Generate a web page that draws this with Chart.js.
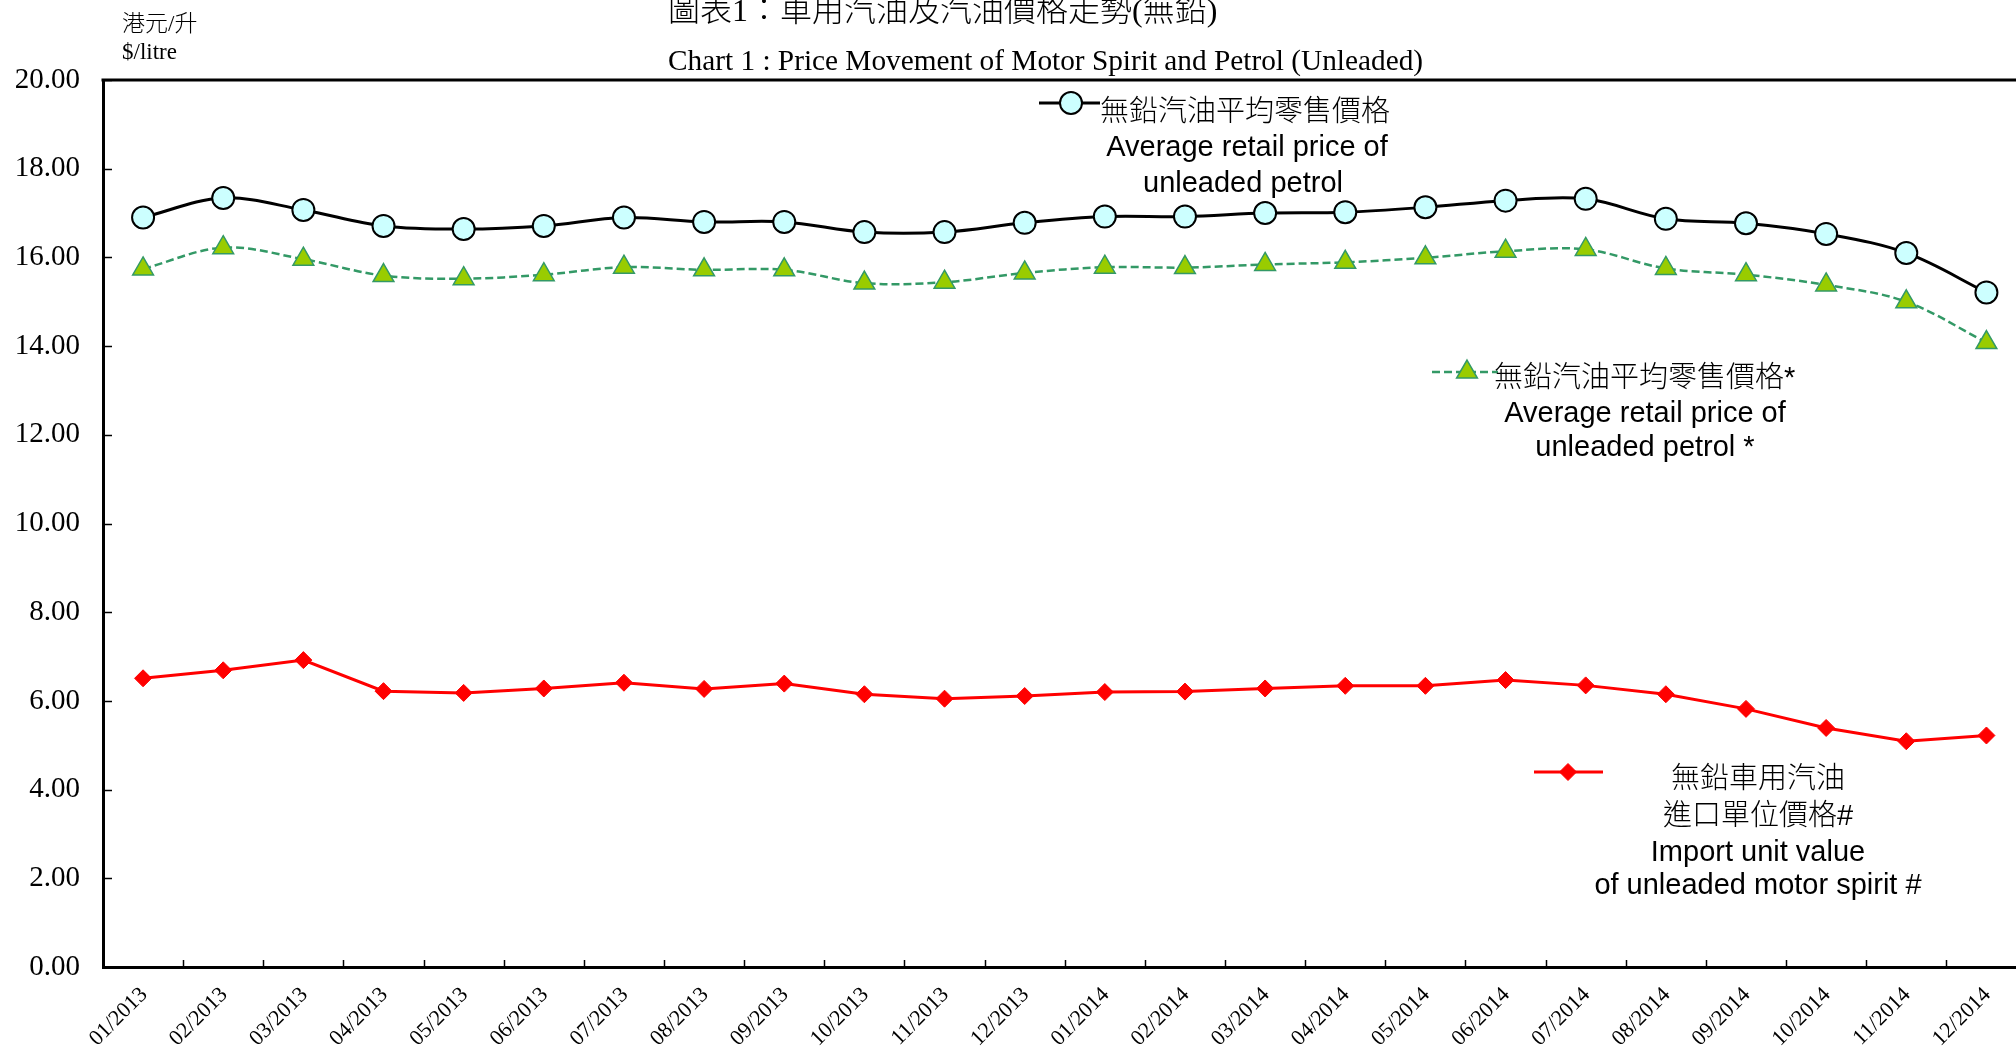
<!DOCTYPE html>
<html lang="zh-Hant">
<head>
  <meta charset="UTF-8">
  <title>Chart 1 : Price Movement of Motor Spirit and Petrol (Unleaded)</title>
  <script src="https://cdn.jsdelivr.net/npm/chart.js"></script>
  <style>
    html, body { margin: 0; padding: 0; background: #fff; overflow: hidden; }
    #wrap { position: relative; width: 2016px; height: 1048px; overflow: hidden; }
    #chart { position: absolute; left: 0; top: 0; }
    .t { position: absolute; white-space: nowrap; color: #000; line-height: 1; font-weight: 300; }
    .serif { font-family: "Liberation Serif", "Noto Sans CJK TC", serif; }
    .sans { font-family: "Liberation Sans", "Noto Sans CJK TC", sans-serif; font-size: 29px; }
    .mid { transform: translate(-50%, -50%); }
    .lm { transform: translate(0, -50%); }
  </style>
</head>
<body>
  <div id="wrap">
    <canvas id="chart" width="2040" height="1048"></canvas>

    <!-- titles and unit -->
    <div class="t serif lm" style="left:668px; top:10px; font-size:32px;">圖表1：車用汽油及汽油價格走勢(無鉛)</div>
    <div class="t serif lm" style="left:668px; top:61px; font-size:29.3px;">Chart 1 : Price Movement of Motor Spirit and Petrol (Unleaded)</div>
    <div class="t serif lm" style="left:122px; top:23px; font-size:23px;">港元/升</div>
    <div class="t serif lm" style="left:122px; top:51px; font-size:23px;">$/litre</div>

    <!-- legend texts -->
    <div class="t sans lm" style="left:1100px; top:111px;">無鉛汽油平均零售價格</div>
    <div class="t sans mid" style="left:1247px; top:146px;">Average retail price of</div>
    <div class="t sans mid" style="left:1243px; top:182px;">unleaded petrol</div>

    <div class="t sans lm" style="left:1494px; top:377px;">無鉛汽油平均零售價格<b>*</b></div>
    <div class="t sans mid" style="left:1645px; top:412px;">Average retail price of</div>
    <div class="t sans mid" style="left:1645px; top:446px;">unleaded petrol *</div>

    <div class="t sans mid" style="left:1758px; top:778px;">無鉛車用汽油</div>
    <div class="t sans mid" style="left:1758px; top:815px;">進口單位價格#</div>
    <div class="t sans mid" style="left:1758px; top:851px;">Import unit value</div>
    <div class="t sans mid" style="left:1758px; top:884px;">of unleaded motor spirit #</div>
  </div>

  <script>
    // months on the x axis
    const months = [
      '01/2013', '02/2013', '03/2013', '04/2013', '05/2013', '06/2013',
      '07/2013', '08/2013', '09/2013', '10/2013', '11/2013', '12/2013',
      '01/2014', '02/2014', '03/2014', '04/2014', '05/2014', '06/2014',
      '07/2014', '08/2014', '09/2014', '10/2014', '11/2014', '12/2014'
    ];

    // average retail price of unleaded petrol ($/litre)
    const retailPrice = [
      16.90, 17.34, 17.07, 16.71, 16.64, 16.71, 16.90, 16.80, 16.80, 16.57, 16.57, 16.78,
      16.92, 16.92, 17.00, 17.02, 17.13, 17.28, 17.32, 16.87, 16.77, 16.53, 16.10, 15.21
    ];

    // average retail price of unleaded petrol * ($/litre)
    const retailPriceStar = [
      15.74, 16.22, 15.96, 15.59, 15.52, 15.61, 15.78, 15.72, 15.72, 15.42, 15.44, 15.65,
      15.78, 15.77, 15.84, 15.89, 15.99, 16.14, 16.18, 15.75, 15.61, 15.38, 15.00, 14.08
    ];

    // import unit value of unleaded motor spirit # ($/litre)
    const importValue = [
      6.51, 6.69, 6.92, 6.22, 6.18, 6.28, 6.41, 6.27, 6.39, 6.15, 6.05, 6.11,
      6.20, 6.21, 6.28, 6.34, 6.34, 6.47, 6.35, 6.15, 5.82, 5.39, 5.09, 5.22
    ];

    // y axis range
    const yMin = 0;
    const yMax = 20;
    const yStep = 2;

    const circleStyle = { pointStyle: 'circle', radius: 11, borderWidth: 2, fill: '#ccffff', stroke: '#000' };
    const triStyle = { pointStyle: 'triangle', radius: 12, borderWidth: 1.5, fill: '#99cc00', stroke: '#339966' };
    const diamondStyle = { pointStyle: 'rectRot', radius: 8.5, borderWidth: 1, fill: '#ff0000', stroke: '#ff0000' };

    // inward tick marks, top border and legend samples
    const extras = {
      id: 'extras',
      afterDatasetsDraw(chart) {
        const { ctx, chartArea, scales: { x, y } } = chart;
        ctx.save();
        ctx.strokeStyle = '#000';
        ctx.lineWidth = 1.5;
        y.ticks.forEach((t, i) => {
          const py = Math.round(y.getPixelForTick(i)) + 0.5;
          ctx.beginPath();
          ctx.moveTo(chartArea.left, py);
          ctx.lineTo(chartArea.left + 9, py);
          ctx.stroke();
        });
        for (let i = 1; i <= months.length; i++) {
          const px = Math.round(x.getPixelForValue(i - 0.5)) + 0.5;
          ctx.beginPath();
          ctx.moveTo(px, chartArea.bottom);
          ctx.lineTo(px, chartArea.bottom - 7);
          ctx.stroke();
        }
        // top border of plot area
        ctx.lineWidth = 3;
        ctx.beginPath();
        ctx.moveTo(chartArea.left - 1.5, chartArea.top);
        ctx.lineTo(chartArea.right, chartArea.top);
        ctx.stroke();

        // legend samples
        const sample = (x0, x1, yy, color, width, dash, st, mx) => {
          ctx.save();
          ctx.strokeStyle = color;
          ctx.lineWidth = width;
          ctx.setLineDash(dash);
          ctx.beginPath();
          ctx.moveTo(x0, yy);
          ctx.lineTo(x1, yy);
          ctx.stroke();
          ctx.setLineDash([]);
          ctx.fillStyle = st.fill;
          ctx.strokeStyle = st.stroke;
          ctx.lineWidth = st.borderWidth;
          Chart.helpers.drawPoint(ctx, { pointStyle: st.pointStyle, radius: st.radius, rotation: 0, borderWidth: st.borderWidth }, mx, yy);
          ctx.restore();
        };
        sample(1039, 1100, 103, '#000', 3, [], circleStyle, 1071);
        sample(1432, 1498, 372, '#339966', 2.5, [8, 4], triStyle, 1467);
        sample(1534, 1603, 772, '#ff0000', 3, [], diamondStyle, 1568);
        ctx.restore();
      }
    };

    new Chart(document.getElementById('chart'), {
      type: 'line',
      data: {
        labels: months,
        datasets: [
          {
            label: '無鉛車用汽油進口單位價格# Import unit value of unleaded motor spirit #',
            data: importValue,
            borderColor: '#ff0000',
            borderWidth: 3,
            tension: 0,
            pointStyle: diamondStyle.pointStyle,
            pointRadius: diamondStyle.radius,
            pointBackgroundColor: diamondStyle.fill,
            pointBorderColor: diamondStyle.stroke,
            pointBorderWidth: diamondStyle.borderWidth
          },
          {
            label: '無鉛汽油平均零售價格* Average retail price of unleaded petrol *',
            data: retailPriceStar,
            borderColor: '#339966',
            borderWidth: 2.5,
            borderDash: [8, 4],
            tension: 0.35,
            pointStyle: triStyle.pointStyle,
            pointRadius: triStyle.radius,
            pointBackgroundColor: triStyle.fill,
            pointBorderColor: triStyle.stroke,
            pointBorderWidth: triStyle.borderWidth
          },
          {
            label: '無鉛汽油平均零售價格 Average retail price of unleaded petrol',
            data: retailPrice,
            borderColor: '#000',
            borderWidth: 3,
            tension: 0.35,
            pointStyle: circleStyle.pointStyle,
            pointRadius: circleStyle.radius,
            pointBackgroundColor: circleStyle.fill,
            pointBorderColor: circleStyle.stroke,
            pointBorderWidth: circleStyle.borderWidth
          }
        ]
      },
      options: {
        responsive: false,
        animation: false,
        layout: { padding: { left: 0, top: 80, right: 6, bottom: 0 } },
        plugins: {
          legend: { display: false },
          tooltip: { enabled: false }
        },
        scales: {
          x: {
            offset: true,
            grid: { display: false },
            border: { display: true, color: '#000', width: 3 },
            ticks: {
              autoSkip: false,
              minRotation: 45,
              maxRotation: 45,
              padding: 7,
              labelOffset: 1,
              color: '#000',
              font: { family: 'Liberation Serif', size: 22 }
            },
            afterFit(scale) { scale.height = 81; }
          },
          y: {
            min: yMin,
            max: yMax,
            grid: { display: false },
            border: { display: true, color: '#000', width: 3 },
            ticks: {
              stepSize: yStep,
              padding: 15,
              color: '#000',
              font: { family: 'Liberation Serif', size: 29 },
              callback: v => v.toFixed(2)
            },
            afterFit(scale) { scale.width = 103; }
          }
        }
      },
      plugins: [extras]
    });
  </script>
</body>
</html>
